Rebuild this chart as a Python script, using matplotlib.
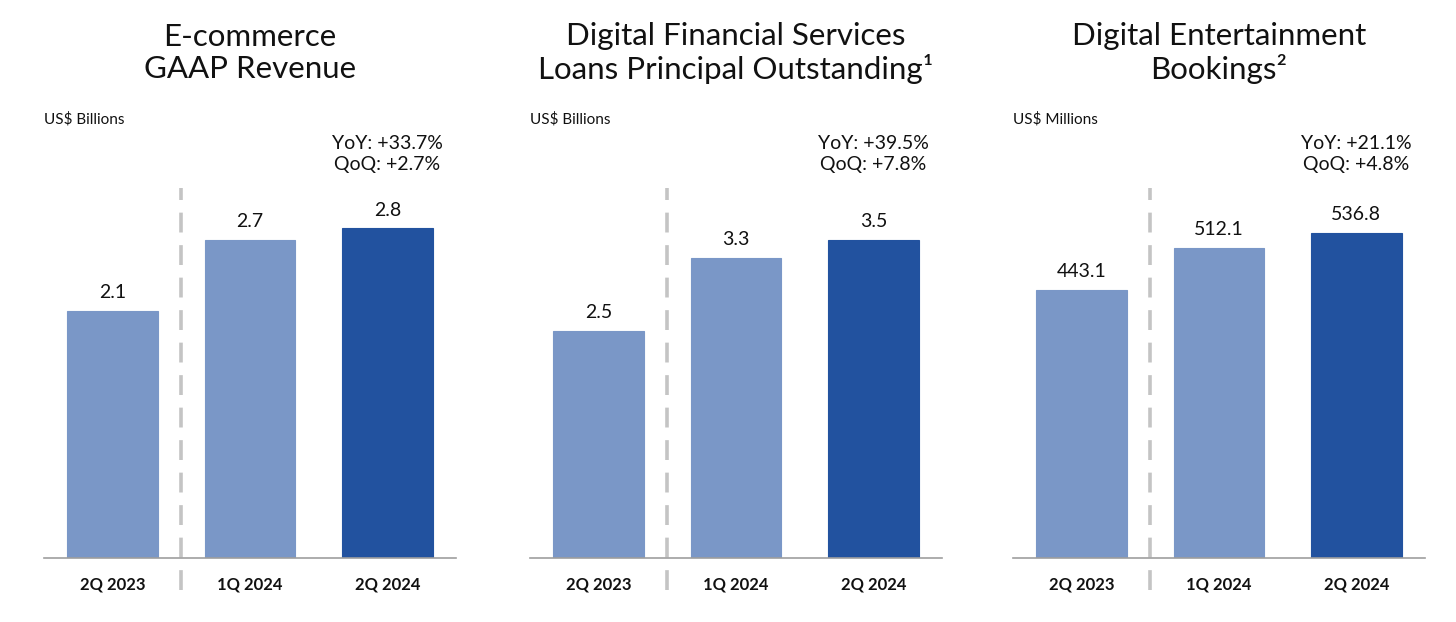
import matplotlib
matplotlib.use('Agg')
import matplotlib.pyplot as plt
from matplotlib.transforms import blended_transform_factory

plt.rcParams['font.family'] = ['Lato', 'DejaVu Sans']

# --- data ---
periods = ['2Q 2023', '1Q 2024', '2Q 2024']
titles = ['E-commerce\nGAAP Revenue',
          'Digital Financial Services\nLoans Principal Outstanding\u00b9',
          'Digital Entertainment\nBookings\u00b2']
units = ['US$ Billions', 'US$ Billions', 'US$ Millions']
ecommerce = [2.1, 2.7, 2.8]
dfs_loans = [2.5, 3.3, 3.5]
entertainment = [443.1, 512.1, 536.8]
value_labels = [['2.1', '2.7', '2.8'], ['2.5', '3.3', '3.5'], ['443.1', '512.1', '536.8']]
growth = ['YoY: +33.7%\nQoQ: +2.7%', 'YoY: +39.5%\nQoQ: +7.8%', 'YoY: +21.1%\nQoQ: +4.8%']
series = [ecommerce, dfs_loans, entertainment]
ymax = [3.72, 4.82, 723]

light, dark = '#7A97C7', '#22529F'
W, H = 1456, 622
fig = plt.figure(figsize=(W / 100, H / 100), dpi=100)

panel_left = [44, 530, 1013]
ax_w, base_y, top_y = 412, 558, 120

for i in range(3):
    ax = fig.add_axes([panel_left[i] / W, (H - base_y) / H, ax_w / W, (base_y - top_y) / H])
    vals = series[i]
    ax.bar(range(3), vals, width=0.66, color=[light, light, dark],
           edgecolor=[light, light, dark], linewidth=0.8)
    ax.set_xlim(-0.5, 2.5)
    ax.set_ylim(0, ymax[i])
    for s in ['top', 'right', 'left']:
        ax.spines[s].set_visible(False)
    ax.spines['bottom'].set_color('#9e9e9e')
    ax.spines['bottom'].set_linewidth(1.2)
    ax.set_yticks([])
    ax.set_xticks(range(3))
    ax.set_xticklabels(periods, fontsize=12, fontweight='bold', color='#111111')
    ax.tick_params(axis='x', length=0, pad=13)

    for j, v in enumerate(vals):
        ax.annotate(value_labels[i][j], (j, v), xytext=(0, 7), textcoords='offset points',
                    ha='center', va='bottom', fontsize=14, color='#111111')

    # dashed separator between prior year and current quarters
    h = base_y - top_y
    ax.plot([0.5, 0.5], [(base_y - 590) / h, (base_y - 188) / h],
            transform=ax.get_xaxis_transform(), color='#c4c4c4', lw=2.6,
            linestyle=(0, (5.5, 3.5)), clip_on=False, zorder=0)

    tr = blended_transform_factory(ax.transData, fig.transFigure)
    ax.text(2, 1 - 154 / H, growth[i], transform=tr, ha='center', va='center',
            fontsize=14, color='#111111', linespacing=1.25)

    fig.text(panel_left[i] / W, 1 - 119 / H, units[i], ha='left', va='center',
             fontsize=11, color='#111111')
    fig.text((panel_left[i] + ax_w / 2) / W, 1 - 53 / H, titles[i], ha='center', va='center',
             fontsize=22.5, color='#111111', linespacing=1.15)

fig.savefig('out.png', dpi=100)
